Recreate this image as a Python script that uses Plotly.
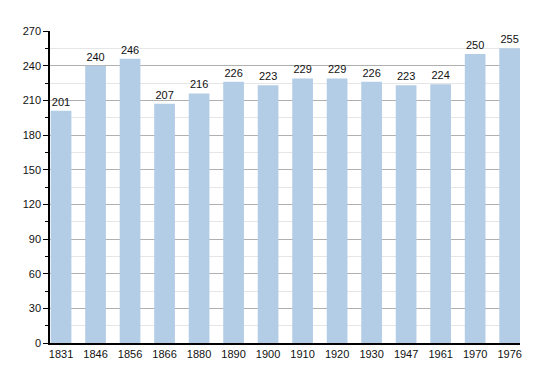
import plotly.graph_objects as go

years = ["1831", "1846", "1856", "1866", "1880", "1890", "1900", "1910", "1920", "1930", "1947", "1961", "1970", "1976"]
population = [201, 240, 246, 207, 216, 226, 223, 229, 229, 226, 223, 224, 250, 255]
y_ticks = [0, 30, 60, 90, 120, 150, 180, 210, 240, 270]

fig = go.Figure(go.Bar(
    x=list(range(len(years))), y=population,
    text=[str(v) for v in population], textposition="outside",
    textfont=dict(size=11, color="#111", family="Liberation Sans, Arial"),
    cliponaxis=False,
    marker=dict(color="#b3cde6", line=dict(width=0)),
    width=0.6,
))
fig.update_layout(
    width=542, height=365,
    margin=dict(l=42, r=30, t=23, b=30),
    plot_bgcolor="white", paper_bgcolor="white",
    font=dict(family="Liberation Sans, Arial", size=11, color="#111"),
    showlegend=False,
    xaxis=dict(
        tickmode="array", tickvals=list(range(len(years))), ticktext=years,
        range=[-0.32, 13.3], showgrid=False, showline=True, linecolor="black", linewidth=1.5,
        ticks="", zeroline=False,
    ),
    yaxis=dict(
        range=[0, 270], tickvals=y_ticks, showline=True, linecolor="black", linewidth=1.5,
        ticks="outside", ticklen=5, tickcolor="black",
        gridcolor="#b0b0b0", gridwidth=1, zeroline=False,
        minor=dict(dtick=15, tick0=0, showgrid=True, gridcolor="#e6e6e6", ticks="outside", ticklen=3, tickcolor="black"),
    ),
)
fig.write_html("out.html")
